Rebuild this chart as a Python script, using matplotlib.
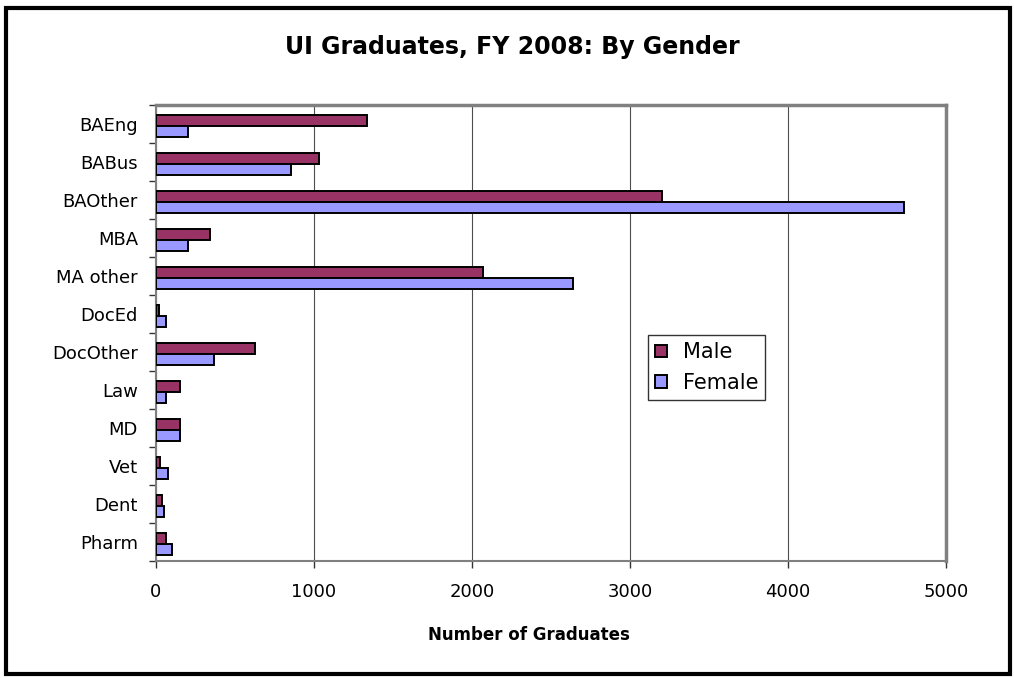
import matplotlib
matplotlib.use('Agg')
import matplotlib.pyplot as plt
from matplotlib.patches import Rectangle
import numpy as np

categories = ['BAEng', 'BABus', 'BAOther', 'MBA', 'MA other', 'DocEd',
              'DocOther', 'Law', 'MD', 'Vet', 'Dent', 'Pharm']
male = [1333, 1030, 3200, 343, 2068, 21, 624, 152, 152, 23, 38, 61]
female = [203, 853, 4734, 203, 2641, 63, 370, 63, 152, 76, 51, 104]
x_ticks = [0, 1000, 2000, 3000, 4000, 5000]

plt.rcParams['font.family'] = 'DejaVu Sans'

fig = plt.figure(figsize=(10.14, 6.78), dpi=100)
ax = fig.add_axes([0.1538, 0.1726, 0.7791, 0.6726])

y = np.arange(len(categories))
h = 0.285
off = 0.05  # bars sit a bit low in each row
ax.barh(y - h / 2 + off, male, height=h, color='#993366', edgecolor='black',
        linewidth=1.4, label='Male', zorder=3)
ax.barh(y + h / 2 + off, female, height=h, color='#9999FF', edgecolor='black',
        linewidth=1.4, label='Female', zorder=3)

ax.set_xlim(0, 5000)
ax.set_ylim(len(categories) - 0.5, -0.5)
ax.set_xticks(x_ticks)
ax.set_xticklabels([str(v) for v in x_ticks], fontsize=13)
ax.set_yticks(y)
ax.set_yticklabels(categories, fontsize=13)
ax.set_yticks(np.arange(len(categories) + 1) - 0.5, minor=True)
ax.tick_params(axis='y', which='major', length=0, pad=13)
ax.tick_params(axis='y', which='minor', length=5, width=1, color='#333333')
ax.tick_params(axis='x', which='major', length=5, width=1, color='#333333', pad=11)
ax.xaxis.grid(True, color='#4d4d4d', linewidth=0.8, zorder=0)

for side in ['left', 'bottom']:
    ax.spines[side].set_color('#808080')
    ax.spines[side].set_linewidth(1.5)
for side in ['top', 'right']:
    ax.spines[side].set_color('#808080')
    ax.spines[side].set_linewidth(2.5)

leg = ax.legend(loc='upper left', bbox_to_anchor=(0.623, 0.4956), fontsize=15,
                frameon=True, fancybox=False, edgecolor='black',
                handlelength=0.55, handleheight=0.55, handletextpad=0.75,
                labelspacing=0.5, borderpad=0.35, borderaxespad=0)
leg.get_frame().set_linewidth(1.0)

fig.text(0.5054, 1 - 47 / 678, 'UI Graduates, FY 2008: By Gender',
         ha='center', va='center', fontsize=17, fontweight='bold')
fig.text(0.522, 1 - 635 / 678, 'Number of Graduates',
         ha='center', va='center', fontsize=12, fontweight='bold')

fig.patches.append(Rectangle((6 / 1014, 4 / 678), 1004 / 1014, 666 / 678,
                             transform=fig.transFigure, fill=False,
                             edgecolor='black', linewidth=3))

fig.savefig('out.png', dpi=100)
